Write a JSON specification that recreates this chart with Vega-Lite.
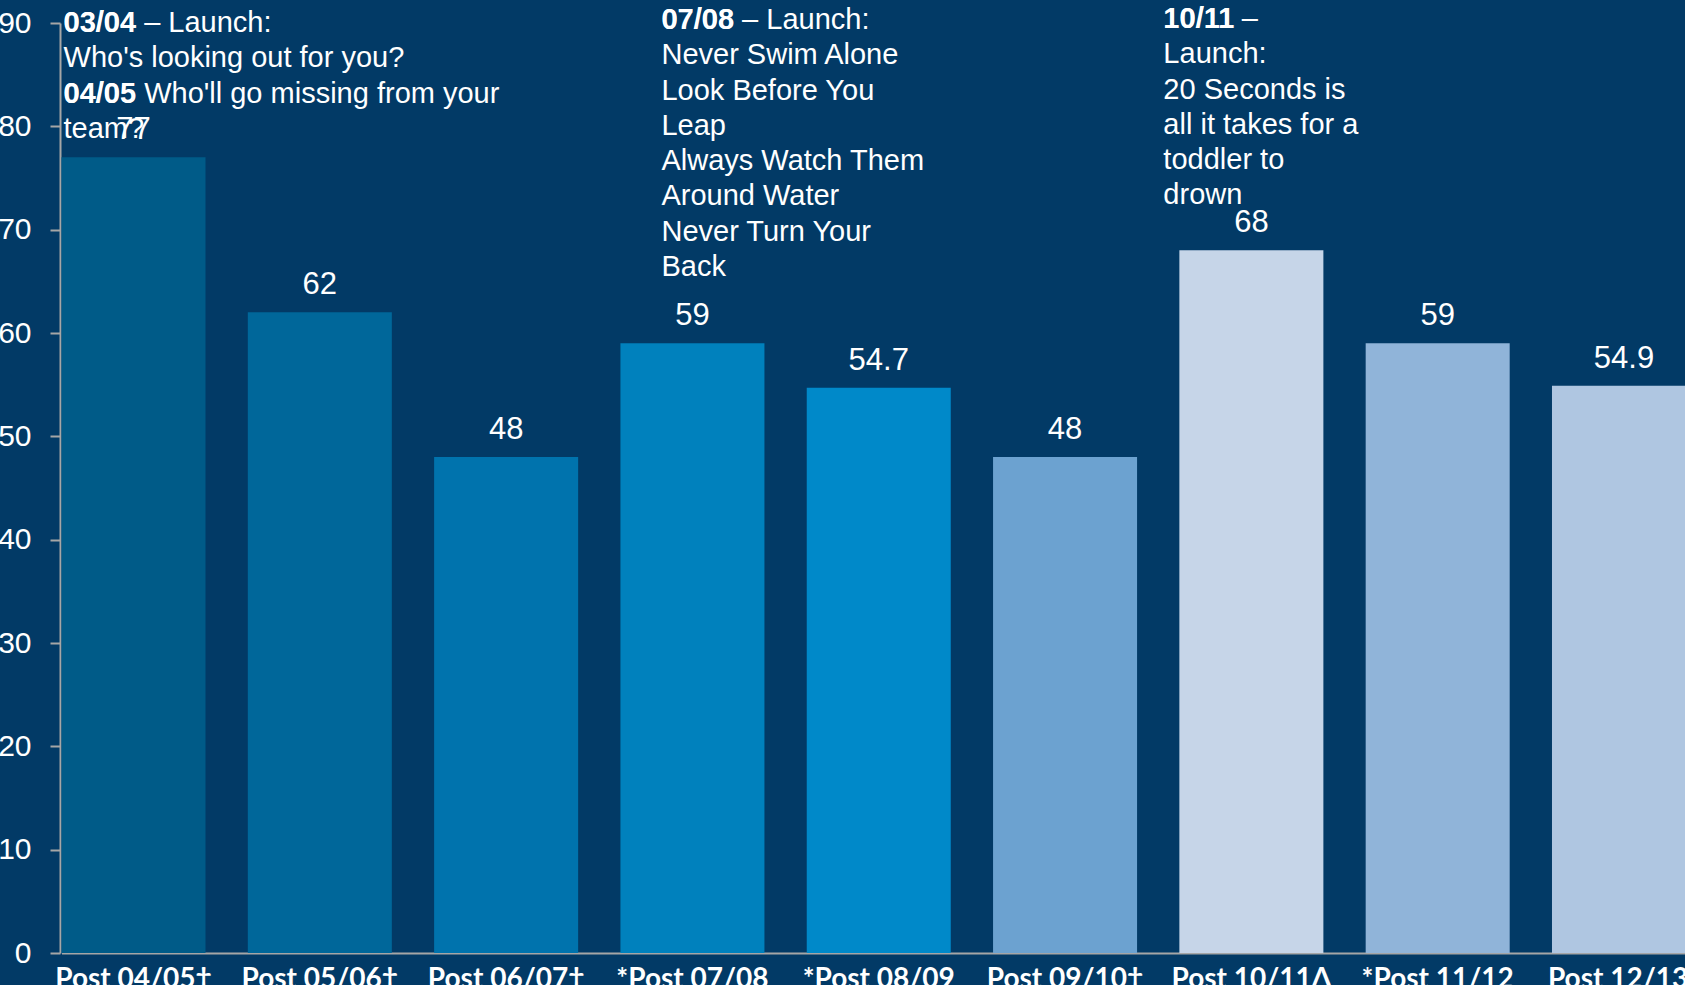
{
  "$schema": "https://vega.github.io/schema/vega-lite/v6.json",
  "width": 1625,
  "height": 930,
  "autosize": {"type": "none"},
  "padding": {"left": 60, "top": 23, "right": 0, "bottom": 32},
  "background": "#023a66",
  "config": {
    "view": {"stroke": null},
    "font": "Liberation Sans",
    "text": {"font": "Liberation Sans", "color": "white"}
  },
  "datasets": {
    "bars": [
      {"period": "Post 04/05†", "value": 77},
      {"period": "Post 05/06†", "value": 62},
      {"period": "Post 06/07†", "value": 48},
      {"period": "*Post 07/08", "value": 59},
      {"period": "*Post 08/09", "value": 54.7},
      {"period": "Post 09/10†", "value": 48},
      {"period": "Post 10/11Δ", "value": 68},
      {"period": "*Post 11/12", "value": 59},
      {"period": "Post 12/13*", "value": 54.9}
    ],
    "notes": [
      {"note": "A", "period": "Post 04/05†", "line": 0, "text": "03/04 – Launch:", "bold": "03/04"},
      {"note": "A", "period": "Post 04/05†", "line": 1, "text": "Who's looking out for you?", "bold": ""},
      {"note": "A", "period": "Post 04/05†", "line": 2, "text": "04/05 Who'll go missing from your", "bold": "04/05"},
      {"note": "A", "period": "Post 04/05†", "line": 3, "text": "team?", "bold": ""},
      {"note": "B", "period": "*Post 07/08", "line": 0, "text": "07/08 – Launch:", "bold": "07/08"},
      {"note": "B", "period": "*Post 07/08", "line": 1, "text": "Never Swim Alone", "bold": ""},
      {"note": "B", "period": "*Post 07/08", "line": 2, "text": "Look Before You", "bold": ""},
      {"note": "B", "period": "*Post 07/08", "line": 3, "text": "Leap", "bold": ""},
      {"note": "B", "period": "*Post 07/08", "line": 4, "text": "Always Watch Them", "bold": ""},
      {"note": "B", "period": "*Post 07/08", "line": 5, "text": "Around Water", "bold": ""},
      {"note": "B", "period": "*Post 07/08", "line": 6, "text": "Never Turn Your", "bold": ""},
      {"note": "B", "period": "*Post 07/08", "line": 7, "text": "Back", "bold": ""},
      {"note": "C", "period": "Post 10/11Δ", "line": 0, "text": "10/11 –", "bold": "10/11"},
      {"note": "C", "period": "Post 10/11Δ", "line": 1, "text": "Launch:", "bold": ""},
      {"note": "C", "period": "Post 10/11Δ", "line": 2, "text": "20 Seconds is", "bold": ""},
      {"note": "C", "period": "Post 10/11Δ", "line": 3, "text": "all it takes for a", "bold": ""},
      {"note": "C", "period": "Post 10/11Δ", "line": 4, "text": "toddler to", "bold": ""},
      {"note": "C", "period": "Post 10/11Δ", "line": 5, "text": "drown", "bold": ""}
    ]
  },
  "resolve": {"scale": {"y": "independent"}},
  "encoding": {
    "x": {
      "field": "period",
      "type": "nominal",
      "sort": null,
      "scale": {
        "domain": ["Post 04/05†", "Post 05/06†", "Post 06/07†", "*Post 07/08", "*Post 08/09", "Post 09/10†", "Post 10/11Δ", "*Post 11/12", "Post 12/13*"],
        "range": [1.5, 1636],
        "paddingInner": 0.227,
        "paddingOuter": 0
      },
      "axis": {
        "title": null,
        "ticks": false,
        "labelFont": "Lato",
        "labelFontWeight": "bold",
        "labelFontSize": 28,
        "labelColor": "white",
        "labelPadding": 12,
        "labelAngle": 0,
        "labelBaseline": "top",
        "labelOverlap": false,
        "labelLimit": 0,
        "domainColor": "#a6a6a6",
        "domainWidth": 2
      }
    }
  },
  "layer": [
    {
      "data": {"name": "bars"},
      "mark": {"type": "bar"},
      "encoding": {
        "y": {
          "field": "value",
          "type": "quantitative",
          "scale": {"domain": [0, 90], "nice": false},
          "axis": {
            "title": null,
            "values": [0, 10, 20, 30, 40, 50, 60, 70, 80, 90],
            "grid": false,
            "tickSize": 10,
            "tickColor": "#a6a6a6",
            "tickWidth": 2,
            "domainColor": "#a6a6a6",
            "domainWidth": 2,
            "labelFont": "Liberation Sans",
            "labelFontSize": 30,
            "labelColor": "white",
            "labelPadding": 19
          }
        },
        "color": {
          "field": "period",
          "type": "nominal",
          "sort": null,
          "scale": {
            "domain": ["Post 04/05†", "Post 05/06†", "Post 06/07†", "*Post 07/08", "*Post 08/09", "Post 09/10†", "Post 10/11Δ", "*Post 11/12", "Post 12/13*"],
            "range": ["#005b88", "#00679a", "#0073ad", "#0081bd", "#0089c9", "#6ca2d0", "#c6d5e8", "#90b4d9", "#afc6e1"]
          },
          "legend": null
        }
      }
    },
    {
      "data": {"name": "bars"},
      "mark": {"type": "text", "baseline": "alphabetic", "dy": -18, "fontSize": 31, "font": "Liberation Sans", "color": "white"},
      "encoding": {
        "y": {"field": "value", "type": "quantitative", "scale": {"domain": [0, 90], "nice": false}, "axis": null},
        "text": {"field": "value", "type": "quantitative"}
      }
    },
    {
      "data": {"name": "notes"},
      "transform": [{"filter": "datum.note == 'A'"}],
      "mark": {"type": "text", "align": "left", "baseline": "alphabetic", "dx": -70, "dy": 9, "fontSize": 29, "color": "white"},
      "encoding": {
        "y": {"field": "line", "type": "quantitative", "scale": {"domain": [0, 26.35], "nice": false, "zero": false, "reverse": true}, "axis": null},
        "text": {"field": "text"}
      }
    },
    {
      "data": {"name": "notes"},
      "transform": [{"filter": "datum.note == 'A' && datum.bold != ''"}],
      "mark": {"type": "text", "align": "left", "baseline": "alphabetic", "dx": -70, "dy": 9, "fontSize": 29, "fontWeight": "bold", "color": "white"},
      "encoding": {
        "y": {"field": "line", "type": "quantitative", "scale": {"domain": [0, 26.35], "nice": false, "zero": false, "reverse": true}, "axis": null},
        "text": {"field": "bold"}
      }
    },
    {
      "data": {"name": "notes"},
      "transform": [{"filter": "datum.note == 'B'"}],
      "mark": {"type": "text", "align": "left", "baseline": "alphabetic", "dx": -31, "dy": 6, "fontSize": 29, "color": "white"},
      "encoding": {
        "y": {"field": "line", "type": "quantitative", "scale": {"domain": [0, 26.35], "nice": false, "zero": false, "reverse": true}, "axis": null},
        "text": {"field": "text"}
      }
    },
    {
      "data": {"name": "notes"},
      "transform": [{"filter": "datum.note == 'B' && datum.bold != ''"}],
      "mark": {"type": "text", "align": "left", "baseline": "alphabetic", "dx": -31, "dy": 6, "fontSize": 29, "fontWeight": "bold", "color": "white"},
      "encoding": {
        "y": {"field": "line", "type": "quantitative", "scale": {"domain": [0, 26.35], "nice": false, "zero": false, "reverse": true}, "axis": null},
        "text": {"field": "bold"}
      }
    },
    {
      "data": {"name": "notes"},
      "transform": [{"filter": "datum.note == 'C'"}],
      "mark": {"type": "text", "align": "left", "baseline": "alphabetic", "dx": -88, "dy": 5, "fontSize": 29, "color": "white"},
      "encoding": {
        "y": {"field": "line", "type": "quantitative", "scale": {"domain": [0, 26.35], "nice": false, "zero": false, "reverse": true}, "axis": null},
        "text": {"field": "text"}
      }
    },
    {
      "data": {"name": "notes"},
      "transform": [{"filter": "datum.note == 'C' && datum.bold != ''"}],
      "mark": {"type": "text", "align": "left", "baseline": "alphabetic", "dx": -88, "dy": 5, "fontSize": 29, "fontWeight": "bold", "color": "white"},
      "encoding": {
        "y": {"field": "line", "type": "quantitative", "scale": {"domain": [0, 26.35], "nice": false, "zero": false, "reverse": true}, "axis": null},
        "text": {"field": "bold"}
      }
    }
  ]
}
